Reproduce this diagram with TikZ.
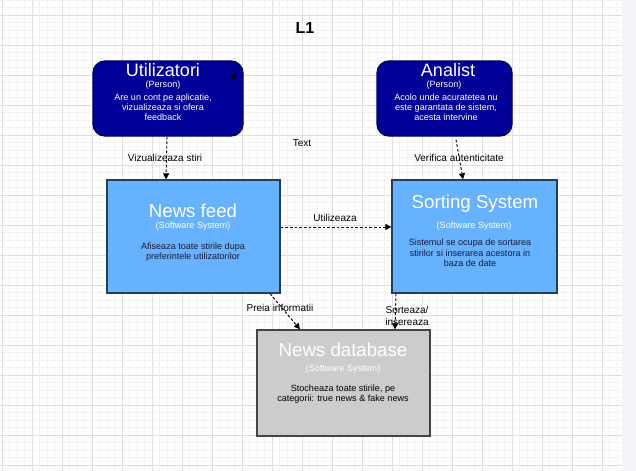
\documentclass[tikz,border=0pt]{standalone}
\usepackage{fontspec}
\setmainfont{Liberation Sans}
\usetikzlibrary{calc,arrows.meta}
\definecolor{persfill}{HTML}{000099}
\definecolor{persdraw}{HTML}{00005C}
\definecolor{sysfill}{HTML}{66B2FF}
\definecolor{sysdraw}{HTML}{203F5E}
\definecolor{dbfill}{HTML}{CCCCCC}
\definecolor{dbdraw}{HTML}{444444}
\definecolor{gridminor}{HTML}{F3F3F3}
\definecolor{gridmajor}{HTML}{DEDEDE}
\definecolor{sidebg}{HTML}{F4F5F8}
\definecolor{desctxt}{HTML}{1A1A3A}
\tikzset{
  personbox/.style={draw=persdraw, line width=1pt, fill=persfill, rounded corners=9pt, inner sep=0pt},
  sysbox/.style={draw=sysdraw, line width=1pt, fill=sysfill, inner sep=0pt},
  dbbox/.style={draw=dbdraw, line width=1pt, fill=dbfill, inner sep=0pt},
  rel/.style={draw=black, line width=0.7pt, dash pattern=on 2pt off 1.5pt, -{Triangle[length=4.5pt,width=4.5pt]}},
  lbl/.style={font=\fontsize{7.5pt}{9pt}\selectfont, text=black, inner sep=0pt, align=center},
  ttl/.style={inner sep=0pt, align=center},
}
\begin{document}
\begin{tikzpicture}[x=0.75pt,y=-0.75pt]
\useasboundingbox (0,0) rectangle (636,471);
\fill[white] (0,0) rectangle (636,471);
\fill[sidebg] (622,0) rectangle (636,471);
% grid
\foreach \i in {0,...,83} { \draw[gridminor, line width=0.4pt] ({2+7.5*\i},0) -- ({2+7.5*\i},471); }
\foreach \j in {0,...,63} { \draw[gridminor, line width=0.4pt] (0,{0+7.5*\j}) -- (622,{0+7.5*\j}); }
\foreach \i in {0,...,20} { \draw[gridmajor, line width=0.5pt] ({2+30*\i},0) -- ({2+30*\i},471); }
\foreach \j in {0,...,15} { \draw[gridmajor, line width=0.5pt] (0,{15+30*\j}) -- (622,{15+30*\j}); }

% title
\node[ttl, font=\bfseries\fontsize{12pt}{14pt}\selectfont] (title) at (305,28) {L1};

% boxes
\node[personbox, minimum width=112.5pt, minimum height=56.25pt] (u) at (168,98.5) {};
\node[personbox, minimum width=101.25pt, minimum height=56.25pt] (a) at (444.5,98.5) {};
\node[sysbox, minimum width=129.75pt, minimum height=84.75pt] (nf) at (193.5,236.5) {};
\node[sysbox, minimum width=123.75pt, minimum height=84.75pt] (s) at (474.5,236.5) {};
\node[dbbox, minimum width=129.75pt, minimum height=79.5pt] (db) at (343.5,383) {};

% texts in person boxes
\node[ttl, text=white, font=\fontsize{13.5pt}{14pt}\selectfont] (ut) at (163,70.5) {Utilizatori};
\node[ttl, text=white, font=\fontsize{6.8pt}{8pt}\selectfont] (up) at (163,85.5) {(Person)};
\node[ttl, text=white, font=\fontsize{6.8pt}{7.6pt}\selectfont] (ud) at (163,107) {Are un cont pe aplicatie,\\vizualizeaza si ofera\\feedback};

\node[ttl, text=white, font=\fontsize{13.5pt}{14pt}\selectfont] (at) at (448,70.5) {Analist};
\node[ttl, text=white, font=\fontsize{6.8pt}{8pt}\selectfont] (ap) at (444,85.5) {(Person)};
\node[ttl, text=white, font=\fontsize{6.8pt}{7.6pt}\selectfont] (ad) at (446,107) {Acolo unde acuratetea nu\\este garantata de sistem,\\acesta intervine};

% news feed
\node[ttl, text=white, font=\fontsize{14pt}{15pt}\selectfont] (nft) at (193,211) {News feed};
\node[ttl, text=white, font=\fontsize{6.8pt}{8pt}\selectfont] (nfp) at (193,226) {(Software System)};
\node[ttl, text=desctxt, font=\fontsize{6.8pt}{8pt}\selectfont] (nfd) at (193,252) {Afiseaza toate stirile dupa\\preferintele utilizatorilor};

% sorting
\node[ttl, text=white, font=\fontsize{14pt}{15pt}\selectfont] (st) at (475,204) {Sorting System};
\node[ttl, text=white, font=\fontsize{6.8pt}{8pt}\selectfont] (sp) at (474,226) {(Software System)};
\node[ttl, text=desctxt, font=\fontsize{6.8pt}{8pt}\selectfont] (sd) at (470,253) {Sistemul se ocupa de sortarea\\stirilor si inserarea acestora in\\baza de date};

% database
\node[ttl, text=white, font=\fontsize{14pt}{15pt}\selectfont] (dbt) at (343,350) {News database};
\node[ttl, text=white, font=\fontsize{6.8pt}{8pt}\selectfont] (dbp) at (343,369) {(Software System)};
\node[ttl, text=black, font=\fontsize{6.8pt}{8pt}\selectfont] (dbd) at (343,394) {Stocheaza toate stirile, pe\\categorii: true news \& fake news};

% free text
\node[lbl] (txt) at (302,143) {Text};

% connectors
\draw[rel] ($(u.south)+(-1,0)$) -- ($(nf.north)+(-27.5,0)$);
\node[lbl] (l1) at (165,158) {Vizualizeaza stiri};

\draw[rel] ($(a.south)+(11.5,3)$) -- ($(s.north)+(-11.5,0)$);
\node[lbl] (l2) at (459,158) {Verifica autenticitate};

\draw[rel] ($(nf.east)+(0,-9.5)$) -- ($(s.west)+(0,-9.5)$);
\node[lbl] (l3) at (335,218) {Utilizeaza};

\draw[rel] ($(nf.south)+(76.5,0)$) -- ($(db.north)+(-43.5,0)$);
\node[lbl] (l4) at (280,308) {Preia informatii};

\draw[rel] ($(s.south)+(-78.5,0)$) -- ($(db.north)+(51.5,0)$);
\node[lbl] (l5) at (407,316) {Sorteaza/\\insereaza};

% small stray arrowhead
\coordinate (tipa) at (232,79);
\coordinate (tipb) at (236,72);
\draw[-{Triangle[length=4.5pt,width=4.5pt]}, line width=0.5pt] (tipa) -- (tipb);
\end{tikzpicture}
\end{document}
